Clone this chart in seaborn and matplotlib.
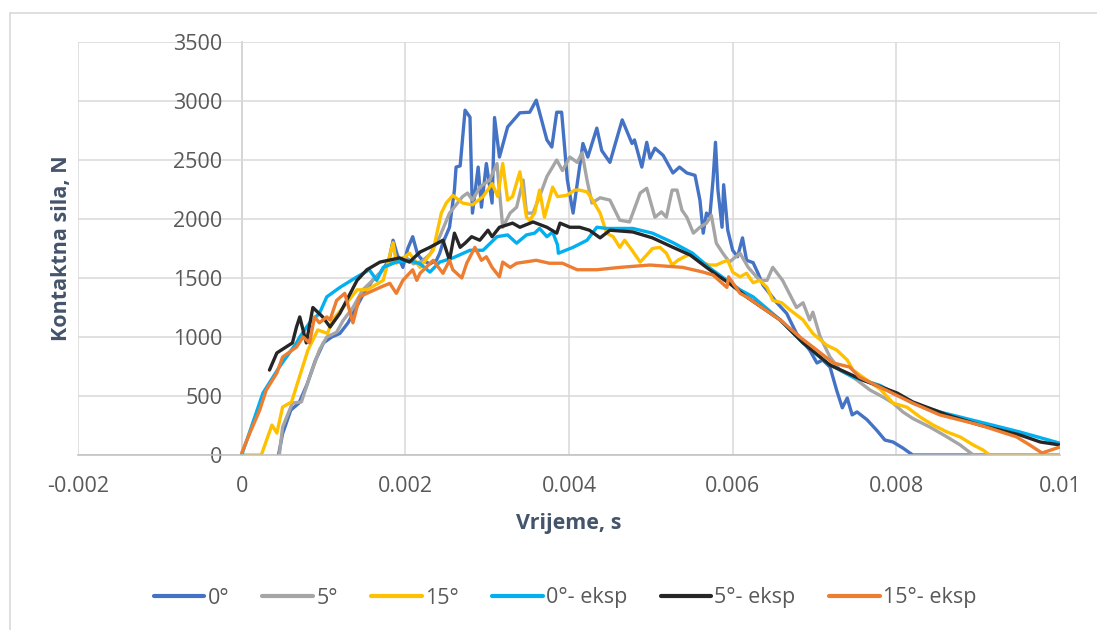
import numpy as np
import pandas as pd
import seaborn as sns
import matplotlib.pyplot as plt
from matplotlib.lines import Line2D

# time in ms, force in N
t_0 = [0.45, 0.50, 0.60, 0.70, 0.80, 0.90, 1.00, 1.10, 1.20, 1.30, 1.40, 1.50, 1.60, 1.70, 1.80, 1.85, 1.90, 1.97,
       2.03, 2.09, 2.15, 2.21, 2.30, 2.38, 2.42, 2.46, 2.54, 2.60, 2.62, 2.67, 2.73, 2.79, 2.82, 2.89, 2.93, 2.99,
       3.06, 3.09, 3.15, 3.25, 3.40, 3.52, 3.60, 3.73, 3.79, 3.85, 3.91, 3.98, 4.05, 4.17, 4.23, 4.34, 4.40, 4.50,
       4.65, 4.77, 4.80, 4.89, 4.95, 4.99, 5.05, 5.15, 5.27, 5.35, 5.44, 5.54, 5.60, 5.64, 5.68, 5.72, 5.76, 5.79,
       5.82, 5.87, 5.89, 5.94, 6.00, 6.06, 6.12, 6.17, 6.25, 6.31, 6.37, 6.45, 6.54, 6.66, 6.78, 6.94, 7.03, 7.10,
       7.19, 7.27, 7.34, 7.40, 7.46, 7.52, 7.64, 7.76, 7.86, 7.96, 8.08, 8.20, 10.0]
f_0 = [0, 180, 380, 440, 600, 800, 950, 1000, 1030, 1120, 1250, 1380, 1480, 1550, 1650, 1820, 1700, 1590,
       1750, 1850, 1700, 1650, 1620, 1650, 1710, 1800, 1930, 2245, 2440, 2450, 2922, 2863, 2050, 2440, 2100, 2470,
       2135, 2860, 2525, 2780, 2900, 2905, 3007, 2670, 2610, 2905, 2905, 2330, 2050, 2640, 2525, 2770, 2580, 2480,
       2840, 2640, 2670, 2440, 2650, 2515, 2600, 2540, 2390, 2440, 2390, 2370, 2160, 1880, 2050, 2015, 2330, 2650,
       2245, 1930, 2290, 1905, 1735, 1680, 1840, 1650, 1630, 1540, 1440, 1370, 1290, 1200, 1030, 890, 780, 805,
       745, 550, 400, 483, 340, 365, 300, 210, 127, 110, 59, 0, 0]

t_5 = [0.46, 0.50, 0.62, 0.73, 0.83, 0.95, 1.04, 1.16, 1.24, 1.36, 1.48, 1.60, 1.70, 1.80, 1.90, 2.00, 2.10, 2.20,
       2.30, 2.42, 2.54, 2.70, 2.76, 2.82, 2.91, 3.03, 3.12, 3.19, 3.28, 3.36, 3.44, 3.48, 3.56, 3.64, 3.73, 3.85,
       3.92, 4.01, 4.10, 4.16, 4.22, 4.28, 4.38, 4.50, 4.62, 4.74, 4.87, 4.95, 5.05, 5.13, 5.19, 5.26, 5.32, 5.38,
       5.44, 5.52, 5.60, 5.68, 5.74, 5.80, 5.88, 5.96, 6.09, 6.19, 6.33, 6.42, 6.49, 6.61, 6.78, 6.86, 6.94, 6.98,
       7.07, 7.19, 7.31, 7.47, 7.68, 7.84, 7.96, 8.08, 8.20, 8.41, 8.62, 8.78, 8.94, 10.0]
f_5 = [0, 237, 440, 450, 660, 890, 1000, 1040, 1140, 1250, 1400, 1480, 1550, 1620, 1650, 1680, 1620, 1640,
       1700, 1850, 2050, 2190, 2220, 2160, 2270, 2330, 2470, 1930, 2050, 2100, 2330, 2050, 2050, 2190, 2360, 2500,
       2410, 2525, 2480, 2560, 2330, 2135, 2180, 2160, 1990, 1975, 2220, 2260, 2015, 2060, 2015, 2245, 2245, 2075,
       2015, 1880, 1930, 1965, 2030, 1795, 1710, 1635, 1710, 1590, 1480, 1480, 1590, 1480, 1250, 1290, 1145, 1210,
       1000, 830, 720, 660, 550, 490, 440, 365, 310, 237, 153, 85, 0, 0]

t_15 = [0.0, 0.24, 0.37, 0.43, 0.50, 0.61, 0.81, 0.93, 1.05, 1.11, 1.24, 1.41, 1.53, 1.73, 1.85, 1.89, 2.05, 2.18,
        2.34, 2.44, 2.50, 2.58, 2.70, 2.82, 2.95, 3.06, 3.13, 3.19, 3.25, 3.31, 3.40, 3.48, 3.52, 3.58, 3.64, 3.70,
        3.80, 3.86, 3.97, 4.07, 4.13, 4.22, 4.29, 4.38, 4.46, 4.54, 4.62, 4.68, 4.77, 4.87, 4.95, 5.02, 5.11, 5.19,
        5.26, 5.33, 5.41, 5.50, 5.60, 5.72, 5.80, 5.88, 5.94, 6.00, 6.09, 6.17, 6.25, 6.33, 6.42, 6.49, 6.60, 6.70,
        6.86, 6.98, 7.15, 7.27, 7.40, 7.47, 7.59, 7.80, 7.96, 8.13, 8.29, 8.45, 8.62, 8.78, 8.94, 9.06, 9.14, 10.0]
f_15 = [0, 0, 254, 186, 406, 450, 890, 1060, 1030, 1145, 1250, 1400, 1400, 1480, 1800, 1625, 1710, 1590,
        1735, 2050, 2135, 2200, 2135, 2120, 2190, 2300, 2190, 2470, 2160, 2190, 2400, 2015, 1990, 2050, 2245, 2015,
        2270, 2190, 2200, 2245, 2245, 2230, 2160, 2050, 1880, 1850, 1760, 1820, 1735, 1635, 1695, 1750, 1760, 1710,
        1610, 1650, 1680, 1710, 1635, 1610, 1610, 1635, 1650, 1550, 1510, 1540, 1460, 1480, 1420, 1310, 1290, 1230,
        1145, 1030, 930, 890, 805, 720, 660, 560, 440, 405, 322, 254, 195, 153, 85, 42, 0, 0]

t_0e = [0.0, 0.10, 0.26, 0.46, 0.67, 0.71, 0.83, 0.95, 1.04, 1.20, 1.41, 1.56, 1.65, 1.73, 1.89, 2.05, 2.18, 2.30,
        2.42, 2.58, 2.79, 2.95, 3.12, 3.25, 3.36, 3.48, 3.58, 3.64, 3.73, 3.80, 3.86, 3.87, 4.05, 4.22, 4.34, 4.46,
        4.62, 4.78, 5.02, 5.27, 5.51, 5.72, 5.93, 6.09, 6.25, 6.58, 6.86, 7.15, 7.47, 7.80, 8.20, 8.53, 9.02, 9.51, 10.0]
f_0e = [0, 200, 525, 745, 950, 1000, 1120, 1200, 1340, 1420, 1510, 1570, 1480, 1590, 1635, 1650, 1620, 1550,
        1635, 1670, 1735, 1735, 1850, 1865, 1795, 1865, 1880, 1920, 1850, 1890, 1780, 1710, 1760, 1820, 1930, 1920,
        1920, 1920, 1880, 1800, 1710, 1585, 1480, 1400, 1340, 1145, 950, 780, 660, 590, 440, 365, 280, 195, 100]

t_5e = [0.34, 0.43, 0.62, 0.67, 0.71, 0.75, 0.79, 0.87, 0.99, 1.08, 1.20, 1.41, 1.53, 1.69, 1.93, 2.05, 2.18, 2.30,
        2.46, 2.54, 2.60, 2.67, 2.73, 2.81, 2.91, 3.01, 3.06, 3.15, 3.31, 3.40, 3.56, 3.73, 3.85, 3.89, 4.01, 4.13,
        4.25, 4.38, 4.50, 4.78, 5.02, 5.27, 5.48, 5.68, 5.84, 5.96, 6.17, 6.58, 6.86, 7.19, 7.59, 8.01, 8.20, 8.62,
        9.02, 9.51, 9.76, 10.0]
f_5e = [720, 865, 950, 1085, 1170, 1060, 950, 1250, 1170, 1085, 1200, 1480, 1570, 1635, 1670, 1635, 1720, 1760,
        1820, 1650, 1880, 1760, 1795, 1850, 1820, 1905, 1850, 1930, 1965, 1930, 1975, 1930, 1880, 1965, 1930, 1930,
        1905, 1840, 1905, 1890, 1840, 1760, 1695, 1590, 1510, 1455, 1340, 1145, 950, 762, 635, 525, 450, 340,
        254, 170, 110, 85]

t_15e = [0.0, 0.10, 0.22, 0.30, 0.43, 0.50, 0.67, 0.75, 0.83, 0.89, 0.95, 1.04, 1.08, 1.16, 1.26, 1.36, 1.44, 1.53,
         1.69, 1.81, 1.89, 1.97, 2.09, 2.14, 2.18, 2.34, 2.46, 2.54, 2.58, 2.69, 2.75, 2.85, 2.93, 2.99, 3.06, 3.15,
         3.19, 3.28, 3.36, 3.60, 3.76, 3.92, 4.10, 4.34, 4.62, 4.99, 5.39, 5.64, 5.76, 5.93, 5.95, 6.09, 6.17, 6.58,
         6.82, 6.98, 7.23, 7.43, 7.55, 7.80, 8.20, 8.53, 9.02, 9.47, 9.63, 9.78, 10.0]
f_15e = [17, 186, 380, 550, 695, 830, 915, 1000, 950, 1170, 1120, 1170, 1145, 1310, 1370, 1120, 1340, 1370,
         1420, 1455, 1370, 1480, 1570, 1480, 1540, 1650, 1540, 1650, 1570, 1500, 1625, 1760, 1650, 1680, 1590, 1510,
         1635, 1590, 1625, 1650, 1625, 1625, 1570, 1570, 1590, 1610, 1590, 1550, 1525, 1420, 1510, 1370, 1340, 1145,
         1000, 915, 780, 745, 660, 575, 440, 340, 254, 153, 85, 17, 68]

series = ['0°', '5°', '15°', '0°- eksp', '5°- eksp', '15°- eksp']
colors = ['#4472C4', '#A5A5A5', '#FFC000', '#00B0F0', '#262626', '#ED7D31']
x_ticks = [-0.002, 0, 0.002, 0.004, 0.006, 0.008, 0.01]
x_ticklabels = ['-0.002', '0', '0.002', '0.004', '0.006', '0.008', '0.01']
y_ticks = [0, 500, 1000, 1500, 2000, 2500, 3000, 3500]

# build long table for seaborn
times = [t_0, t_5, t_15, t_0e, t_5e, t_15e]
forces = [f_0, f_5, f_15, f_0e, f_5e, f_15e]
frames = []
for name, t, f in zip(series, times, forces):
    frames.append(pd.DataFrame({'t': np.array(t) * 1e-3, 'F': f, 'serija': name}))
df = pd.concat(frames, ignore_index=True)

sns.set_style('white')
plt.rcParams['font.family'] = ['Open Sans', 'DejaVu Sans']

fig = plt.figure(figsize=(10.97, 6.30), dpi=100)
ax = fig.add_axes([78 / 1097, 1 - 455 / 630, (1060 - 78) / 1097, (455 - 42) / 630])

sns.lineplot(data=df, x='t', y='F', hue='serija', hue_order=series, palette=colors,
             sort=False, estimator=None, lw=2.4, ax=ax, legend=False)

ax.set_xlim(-0.002, 0.01)
ax.set_ylim(0, 3500)
ax.set_xticks(x_ticks)
ax.set_xticklabels(x_ticklabels)
ax.set_yticks(y_ticks)
ax.grid(True, color='#D9D9D9', lw=1.1)
ax.set_axisbelow(True)

for s in ['top', 'right']:
    ax.spines[s].set_visible(False)
ax.spines['left'].set_position(('data', 0))
ax.spines['left'].set_color('#BFBFBF')
ax.spines['bottom'].set_color('#BFBFBF')
ax.spines['left'].set_linewidth(1.1)
ax.spines['bottom'].set_linewidth(1.1)
ax.spines['left'].set_zorder(0.5)

ax.tick_params(axis='both', length=0, labelsize=15.5, labelcolor='#595959')
ax.tick_params(axis='y', pad=14)
ax.tick_params(axis='x', pad=15)

ax.set_xlabel('Vrijeme, s', fontsize=15.5, fontweight='bold', color='#44546A')
ax.set_ylabel('Kontaktna sila, N', fontsize=15.5, fontweight='bold', color='#44546A')
ax.xaxis.set_label_coords(0.5, -0.14)
ax.yaxis.set_label_coords(-0.006, 0.5)

handles = [Line2D([0], [0], color=c, lw=3) for c in colors]
fig.legend(handles, series, loc='center', bbox_to_anchor=(565 / 1097, 1 - 598 / 630), ncol=6,
           frameon=False, fontsize=15.5, handlelength=2.35, handletextpad=0.15, columnspacing=1.55,
           labelcolor='#595959')

# outer chart frame (top and left edges visible in the crop)
fig.add_artist(Line2D([10 / 1097, 1.0], [1 - 13 / 630, 1 - 13 / 630], color='#D9D9D9', lw=1.2,
                      transform=fig.transFigure))
fig.add_artist(Line2D([10 / 1097, 10 / 1097], [0.0, 1 - 13 / 630], color='#D9D9D9', lw=1.2,
                      transform=fig.transFigure))

fig.savefig('out.png', dpi=100)
